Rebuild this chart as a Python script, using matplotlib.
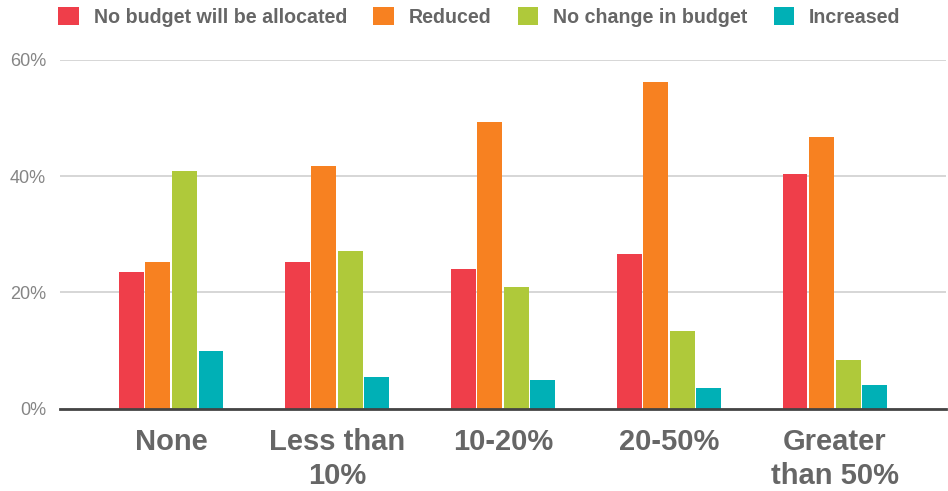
import numpy as np
import matplotlib.pyplot as plt
from matplotlib.patches import Patch

categories = ["None", "Less than\n10%", "10-20%", "20-50%", "Greater\nthan 50%"]
series_names = ["No budget will be allocated", "Reduced", "No change in budget", "Increased"]
no_budget = [23.6, 25.3, 24.1, 26.7, 40.3]
reduced = [25.3, 41.7, 49.4, 56.2, 46.8]
no_change = [40.9, 27.2, 21.0, 13.4, 8.3]
increased = [10.0, 5.4, 4.9, 3.5, 4.0]
y_ticks = [0, 20, 40, 60]
colors = ["#ef3e4a", "#f78121", "#afc93a", "#00b0b6"]

values = [no_budget, reduced, no_change, increased]

plt.rcParams["font.family"] = "Liberation Sans"

fig = plt.figure(figsize=(9.48, 4.91), dpi=100)
ax = fig.add_axes([60 / 948, 82.3 / 491, 886 / 948, 348.7 / 491])

x = np.arange(len(categories))
step = 0.16
width = 0.15
for i, (vals, c) in enumerate(zip(values, colors)):
    ax.bar(x + (i - 1.5) * step, vals, width=width, color=c, zorder=3)

ax.set_xlim(-0.67, 4.67)
ax.set_ylim(0, 60)
ax.set_yticks(y_ticks)
ax.set_yticklabels([f"{t}%" for t in y_ticks], fontsize=13, color="#858585")
ax.set_xticks(x)
ax.set_xticklabels(categories, fontsize=21, fontweight="bold", color="#666666",
                   linespacing=1.25)
ax.tick_params(axis="both", length=0)
ax.tick_params(axis="y", pad=10)
ax.tick_params(axis="x", pad=14)
ax.grid(axis="y", color="#d0d0d0", linewidth=1.2, zorder=0)
for s in ["top", "right", "left"]:
    ax.spines[s].set_visible(False)
ax.spines["bottom"].set_color("#444444")
ax.spines["bottom"].set_linewidth(2)
ax.spines["bottom"].set_zorder(4)

handles = [Patch(facecolor=c) for c in colors]
fig.legend(handles, series_names, loc="center", bbox_to_anchor=(0.5058, 0.965),
           ncol=4, frameon=False, handlelength=1.05, handleheight=1.0,
           columnspacing=1.35, handletextpad=0.75, borderpad=0,
           prop={"size": 14.1, "weight": "bold"}, labelcolor="#666666")

fig.savefig("out.png", dpi=100)
